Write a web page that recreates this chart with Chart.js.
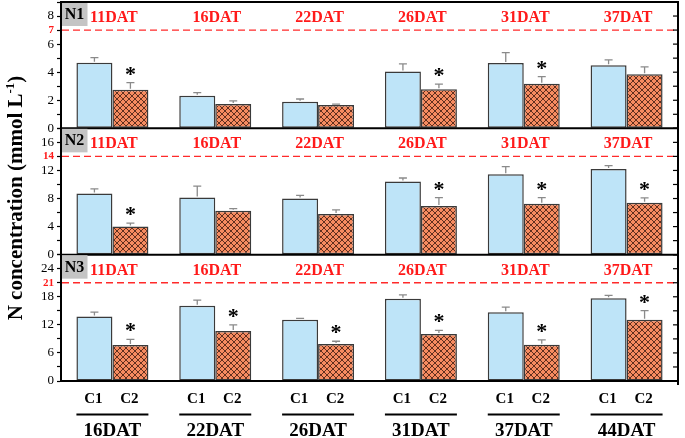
<!DOCTYPE html>
<html><head><meta charset="utf-8">
<script src="https://cdn.jsdelivr.net/npm/chart.js@4.4.1/dist/chart.umd.min.js"></script>
<style>html,body{margin:0;padding:0;background:#fff;} #wrap{position:relative;width:685px;height:438px;}</style>
</head><body><div id="wrap"><canvas id="c" width="685" height="438"></canvas></div>
<script>
// ---- data ----
const groups = ['16DAT','22DAT','26DAT','31DAT','37DAT','44DAT'];
const panelDays = ['11DAT','16DAT','22DAT','26DAT','31DAT','37DAT'];
const panelNames = ['N1','N2','N3'];
const n1C1 = [4.68, 2.32, 1.89, 4.04, 4.66, 4.50];
const n1C1Err = [0.36, 0.23, 0.20, 0.55, 0.73, 0.37];
const n1C2 = [2.74, 1.73, 1.66, 2.79, 3.17, 3.86];
const n1C2Err = [0.52, 0.23, 0.07, 0.36, 0.52, 0.52];
const n1Sig = [true, false, false, true, true, false];
const n2C1 = [8.73, 8.16, 8.02, 10.44, 11.44, 12.20];
const n2C1Err = [0.63, 1.62, 0.43, 0.48, 1.10, 0.48];
const n2C2 = [4.03, 6.27, 5.80, 6.93, 7.26, 7.40];
const n2C2Err = [0.47, 0.28, 0.57, 1.19, 0.86, 0.70];
const n2Sig = [true, false, false, true, true, true];
const n3C1 = [13.76, 16.06, 13.10, 17.57, 14.70, 17.70];
const n3C1Err = [0.94, 1.24, 0.30, 0.83, 1.10, 0.60];
const n3C2 = [7.68, 10.70, 7.90, 10.04, 7.75, 13.10];
const n3C2Err = [1.22, 1.30, 0.60, 0.76, 1.05, 1.96];
const n3Sig = [true, true, true, true, true, true];
const limits = [7, 14, 21];
const axisMax = [9, 18, 27];
const axisStep = [1, 2, 3];
const majorLabels = [[0,2,4,6,8],[0,4,8,12,16],[0,6,12,18,24]];

const F = '"Liberation Serif","Times New Roman",serif';
const ctx = document.getElementById('c').getContext('2d');

function hatchPattern(){
  const s = 6;
  const p = document.createElement('canvas'); p.width = s; p.height = s;
  const g = p.getContext('2d');
  g.fillStyle = '#F68B60'; g.fillRect(0,0,s,s);
  g.strokeStyle = 'rgba(50,20,10,0.85)'; g.lineWidth = 0.9;
  g.beginPath();
  g.moveTo(-1,-1); g.lineTo(s+1,s+1);
  g.moveTo(-1,s+1); g.lineTo(s+1,-1);
  g.stroke();
  return ctx.createPattern(p,'repeat');
}
const hatch = hatchPattern();

const c1Sets = [n1C1, n2C1, n3C1], c2Sets = [n1C2, n2C2, n3C2];
const c1Errs = [n1C1Err, n2C1Err, n3C1Err], c2Errs = [n1C2Err, n2C2Err, n3C2Err];
const sigs = [n1Sig, n2Sig, n3Sig];
const axisIds = ['y1','y2','y3'];

const datasets = [];
for (let p = 0; p < 3; p++) {
  datasets.push({label:'C1', data:c1Sets[p], errs:c1Errs[p], yAxisID:axisIds[p], stack:'C1',
    backgroundColor:'#BEE4F8', borderColor:'#3a3a3a', borderWidth:1.5, borderSkipped:false,
    barPercentage:1, categoryPercentage:0.7});
  datasets.push({label:'C2', data:c2Sets[p], errs:c2Errs[p], yAxisID:axisIds[p], stack:'C2', sig:sigs[p],
    backgroundColor:hatch, borderColor:'#3a3a3a', borderWidth:1.5, borderSkipped:false,
    barPercentage:1, categoryPercentage:0.7});
}

function yScale(i){
  return {
    type:'linear', position:'left', stack:'panels', stackWeight:1, weight:3-i, stacked:false,
    min:0, max:axisMax[i],
    afterFit(s){ s.width = 61; s.paddingTop = 0; s.paddingBottom = 0; },
    ticks:{
      stepSize:axisStep[i], autoSkip:false, padding:3,
      callback:(v)=> (majorLabels[i].includes(v) || v === limits[i]) ? String(v) : '',
      color:(c)=> (c.tick && c.tick.value === limits[i]) ? '#ff1a1a' : '#000',
      font:(c)=> (c.tick && c.tick.value === limits[i]) ? {family:F, size:11, weight:'bold'} : {family:F, size:13}
    },
    grid:{drawOnChartArea:false, drawTicks:true, tickLength:4, color:'#000', tickWidth:1.2},
    border:{display:true, color:'#000', width:2}
  };
}

const deco = {
  id:'deco',
  afterDatasetsDraw(chart){
    const c = chart.ctx, ca = chart.chartArea, xs = chart.scales.x;
    c.save();
    chart.data.datasets.forEach((ds, di) => {
      const meta = chart.getDatasetMeta(di);
      const ys = chart.scales[ds.yAxisID];
      meta.data.forEach((el, i) => {
        const top = ys.getPixelForValue(ds.data[i] + ds.errs[i]);
        c.strokeStyle = '#8a8a8a'; c.lineWidth = 1.3;
        c.beginPath();
        c.moveTo(el.x, el.y - 1); c.lineTo(el.x, top);
        c.moveTo(el.x - 4, top); c.lineTo(el.x + 4, top);
        c.stroke();
        if (ds.sig && ds.sig[i]) {
          c.font = 'bold 22px ' + F; c.fillStyle = '#000'; c.textAlign = 'center'; c.textBaseline = 'alphabetic';
          const m = c.measureText('*');
          const cy = top - 11.5;
          c.fillText('*', el.x, cy + (m.actualBoundingBoxAscent - m.actualBoundingBoxDescent) / 2);
        }
      });
    });
    for (let p = 0; p < 3; p++) {
      const ys = chart.scales[axisIds[p]];
      const ly = ys.getPixelForValue(limits[p]);
      c.strokeStyle = '#ff2a2a'; c.lineWidth = 1.3; c.setLineDash([7,4]);
      c.beginPath(); c.moveTo(ca.left + 1, ly); c.lineTo(ca.right, ly); c.stroke();
      c.setLineDash([]);
      c.strokeStyle = '#000'; c.lineWidth = 2;
      c.beginPath(); c.moveTo(ca.left, ys.bottom); c.lineTo(ca.right + 1, ys.bottom); c.stroke();
      c.lineWidth = 1.2;
      ys.ticks.forEach((t, ti) => {
        const ty = ys.getPixelForTick(ti);
        c.beginPath(); c.moveTo(ca.right - 5, ty); c.lineTo(ca.right, ty); c.stroke();
      });
      c.fillStyle = '#C4C4C4';
      c.fillRect(ca.left + 1, ys.top + 0.5, 25.5, 23.5);
      c.fillStyle = '#000'; c.font = 'bold 16px ' + F; c.textAlign = 'center'; c.textBaseline = 'middle';
      c.fillText(panelNames[p], ca.left + 13.5, ys.top + 13);
      c.fillStyle = '#ff1a1a'; c.font = 'bold 16px ' + F;
      panelDays.forEach((d, i) => c.fillText(d, xs.getPixelForValue(i) + 1.5, ys.top + 16));
    }
    c.strokeStyle = '#000'; c.lineWidth = 2;
    c.beginPath(); c.moveTo(ca.left, ca.top); c.lineTo(ca.right, ca.top); c.lineTo(ca.right, ca.bottom + 4); c.stroke();
    const m1 = chart.getDatasetMeta(4), m2 = chart.getDatasetMeta(5);
    groups.forEach((g, i) => {
      const a = m1.data[i], b = m2.data[i];
      c.fillStyle = '#000'; c.textAlign = 'center'; c.textBaseline = 'middle';
      c.font = 'bold 15px ' + F;
      c.fillText('C1', a.x - 1, 399);
      c.fillText('C2', b.x - 1, 399);
      c.lineWidth = 1.8;
      c.beginPath(); c.moveTo(a.x - a.width / 2, 414.5); c.lineTo(b.x + b.width / 2, 414.5); c.stroke();
      c.font = 'bold 19px ' + F;
      c.fillText(g, xs.getPixelForValue(i), 431);
    });
    c.save();
    c.translate(22, 198); c.rotate(-Math.PI / 2);
    c.textAlign = 'left'; c.textBaseline = 'alphabetic'; c.fillStyle = '#000';
    const t1 = 'N concentration (mmol L', t2 = '-1', t3 = ')';
    c.font = 'bold 21px ' + F; const w1 = c.measureText(t1).width, w3 = c.measureText(t3).width;
    c.font = 'bold 13px ' + F; const w2 = c.measureText(t2).width;
    const W = w1 + w2 + w3;
    c.font = 'bold 21px ' + F; c.fillText(t1, -W / 2, 0);
    c.font = 'bold 13px ' + F; c.fillText(t2, -W / 2 + w1, -8);
    c.font = 'bold 21px ' + F; c.fillText(t3, -W / 2 + w1 + w2, 0);
    c.restore();
    c.restore();
  }
};

new Chart(ctx, {
  type:'bar',
  data:{labels:groups, datasets},
  options:{
    responsive:false, animation:false, devicePixelRatio:1,
    layout:{padding:{top:2, right:7, left:0, bottom:0}},
    plugins:{legend:{display:false}, tooltip:{enabled:false}},
    scales:{
      x:{type:'category', grid:{display:false}, border:{display:false}, ticks:{display:false},
         afterFit(s){ s.height = 57; s.paddingLeft = 0; s.paddingRight = 0; }},
      y1:yScale(0), y2:yScale(1), y3:yScale(2)
    }
  },
  plugins:[deco]
});
</script></body></html>
